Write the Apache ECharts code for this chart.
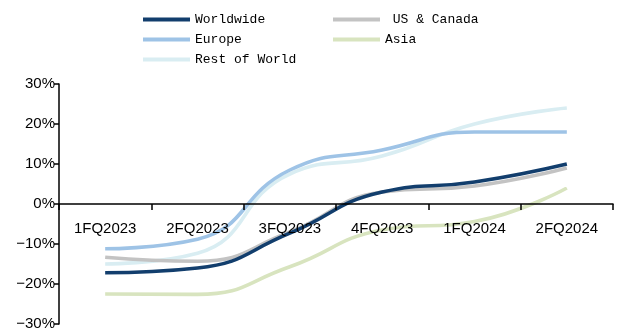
<!DOCTYPE html>
<html>
<head>
<meta charset="utf-8">
<script src="https://cdn.jsdelivr.net/npm/echarts@6/dist/echarts.min.js"></script>
<style>
  html, body { margin: 0; padding: 0; background: #fff; }
  #chart { width: 617px; height: 329px; }
</style>
</head>
<body>
<div id="chart"></div>
<script>
var quarters = ['1FQ2023', '2FQ2023', '3FQ2023', '4FQ2023', '1FQ2024', '2FQ2024']
var worldwide = [-17.2, -16, -7.3, 3, 5.5, 10]
var usCanada = [-13.3, -14.3, -7, 3, 4.5, 9]
var europe = [-11.2, -8.8, 8.5, 13.5, 18, 18]
var asia = [-22.5, -22.6, -15.7, -6.5, -4.4, 4]
var restOfWorld = [-15, -12.3, 7.5, 12, 20, 24]

var colors = {
  'Worldwide': '#123e6d',
  'US & Canada': '#c3c3c3',
  'Europe': '#9ec3e6',
  'Asia': '#d8e4bf',
  'Rest of World': '#d9edf2'
}

function makeSeries (name, data) {
  return {
    name: name,
    type: 'line',
    smooth: 0.5,
    symbol: 'none',
    data: data,
    xAxisIndex: 0,
    yAxisIndex: 0,
    lineStyle: { width: 3.6, color: colors[name] },
    itemStyle: { color: colors[name] }
  }
}

var legendText = { fontFamily: 'Liberation Mono', fontSize: 13, color: '#000' }
var black = { color: '#000', width: 1.5 }

var myChart = echarts.init(document.getElementById('chart'))
var option = {
  animation: false,
  legend: [{
    left: 138,
    top: 8,
    orient: 'vertical',
    icon: 'rect',
    itemWidth: 47,
    itemHeight: 4,
    itemGap: 7,
    textStyle: legendText,
    data: ['Worldwide', 'Europe', 'Rest of World']
  }, {
    left: 328,
    top: 8,
    orient: 'vertical',
    icon: 'rect',
    itemWidth: 47,
    itemHeight: 4,
    itemGap: 7,
    textStyle: legendText,
    formatter: function (n) { return n === 'US & Canada' ? ' ' + n : n },
    data: ['US & Canada', 'Asia']
  }],
  // grid 0 holds the lines, grid 1 only carries the category axis on the zero line
  grid: [
    { left: 59, right: 4, top: 84, bottom: 5, containLabel: false, outerBoundsMode: 'none' },
    { left: 59, right: 4, top: 84, height: 120, containLabel: false, outerBoundsMode: 'none' }
  ],
  xAxis: [{
    gridIndex: 0,
    type: 'category',
    data: quarters,
    boundaryGap: true,
    show: false
  }, {
    gridIndex: 1,
    type: 'category',
    data: quarters,
    boundaryGap: true,
    z: 5,
    axisLine: { lineStyle: black },
    axisTick: { show: true, length: 6, lineStyle: black },
    axisLabel: { margin: 17, fontFamily: 'Liberation Sans', fontSize: 15, color: '#000' },
    splitLine: { show: false }
  }],
  yAxis: [{
    gridIndex: 0,
    type: 'value',
    min: -30,
    max: 30,
    interval: 10,
    axisLine: { show: true, lineStyle: black },
    axisTick: { show: true, length: 5, lineStyle: black },
    axisLabel: {
      margin: 4,
      fontFamily: 'Liberation Sans',
      fontSize: 15,
      color: '#000',
      formatter: function (v) { return (v < 0 ? '\u2212' + (-v) : v) + '%' }
    },
    splitLine: { show: false }
  }, {
    gridIndex: 1,
    type: 'value',
    show: false
  }],
  series: [
    makeSeries('Asia', asia),
    makeSeries('Rest of World', restOfWorld),
    makeSeries('Europe', europe),
    makeSeries('US & Canada', usCanada),
    makeSeries('Worldwide', worldwide)
  ]
}
myChart.setOption(option)
</script>
</body>
</html>
